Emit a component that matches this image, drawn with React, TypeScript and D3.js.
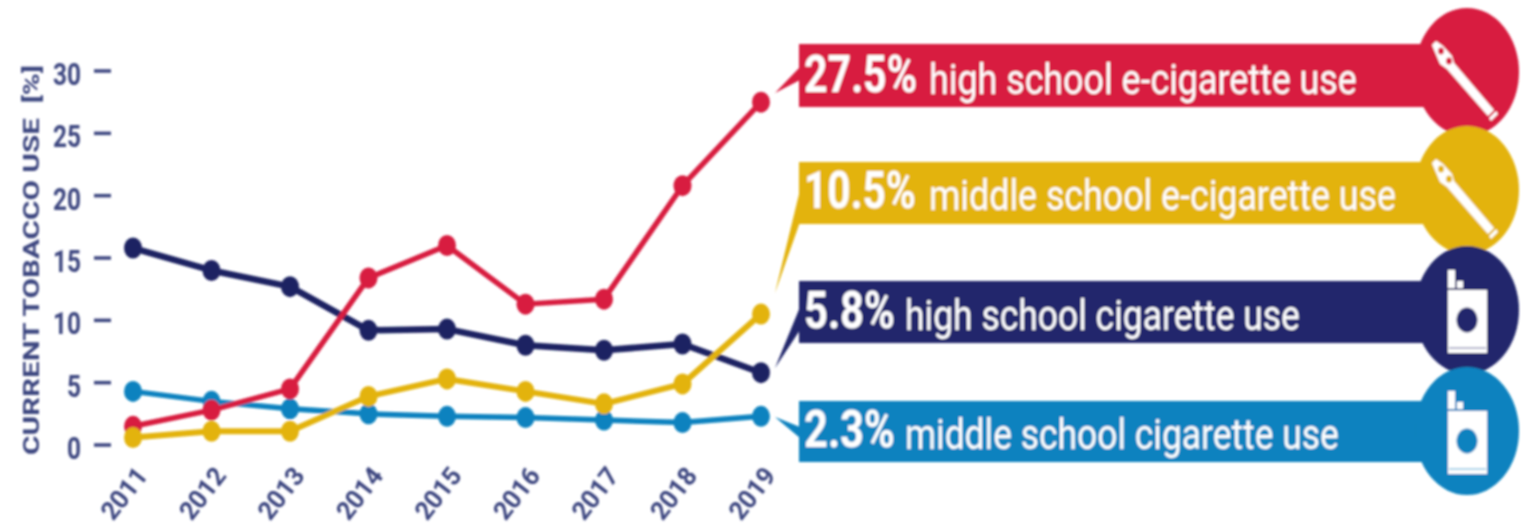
import React from "react";
import * as d3 from "d3";

const years = ["2011", "2012", "2013", "2014", "2015", "2016", "2017", "2018", "2019"];
const yTicks = [0, 5, 10, 15, 20, 25, 30];
const navyValues = [15.8, 14.0, 12.7, 9.2, 9.3, 8.0, 7.6, 8.1, 5.8];
const blueValues = [4.3, 3.5, 2.9, 2.5, 2.3, 2.2, 2.0, 1.8, 2.3];
const redValues = [1.5, 2.8, 4.5, 13.4, 16.0, 11.3, 11.7, 20.8, 27.5];
const yellowValues = [0.6, 1.1, 1.1, 3.9, 5.3, 4.3, 3.3, 4.9, 10.5];

const RED = "#d81f3f";
const YELLOW = "#e3b30f";
const NAVY = "#22286c";
const BLUE = "#0a82bf";
const AXIS = "#3d4680";
const FONT = "Roboto, 'Open Sans', sans-serif";

const x = d3.scalePoint<string>().domain(years).range([133, 761]);
const y = d3.scaleLinear().domain([0, 30]).range([445, 71]);
const line = d3
  .line<number>()
  .x((_, i) => x(years[i]) as number)
  .y((d) => y(d));

const lineSeries = [
  { values: navyValues, color: "#1e2362", width: 6.5 },
  { values: blueValues, color: BLUE, width: 5.5 },
  { values: redValues, color: RED, width: 5.5 },
  { values: yellowValues, color: YELLOW, width: 6 },
];

const banners = [
  { pct: "27.5%", pctW: 113, label: "high school e-cigarette use", lx: 929, lw: 428, top: 44, bottom: 107, base: 91, cy: 72, color: RED, icon: "ecig", tip: [775, 93], b1: 67, b2: 80 },
  { pct: "10.5%", pctW: 112, label: "middle school e-cigarette use", lx: 929, lw: 467, top: 162, bottom: 224, base: 207, cy: 190, color: YELLOW, icon: "ecig", tip: [775, 293], b1: 190, b2: 222 },
  { pct: "5.8%", pctW: 91, label: "high school cigarette use", lx: 905, lw: 395, top: 281, bottom: 343, base: 327, cy: 310, color: NAVY, icon: "pack", tip: [775, 368], b1: 307, b2: 330 },
  { pct: "2.3%", pctW: 91, label: "middle school cigarette use", lx: 905, lw: 434, top: 401, bottom: 462, base: 446, cy: 431, color: BLUE, icon: "pack", tip: [775, 417], b1: 427, b2: 438 },
];

const measureCtx = document.createElement("canvas").getContext("2d") as CanvasRenderingContext2D;
function natural(text: string, size: number, weight: number) {
  measureCtx.font = `${weight} ${size}px Roboto`;
  return measureCtx.measureText(text).width;
}

// Text squeezed horizontally to a target width, so its box matches what is drawn.
function Fit({ text, px, py, w, size, weight, fill, rotate = 0, anchor = "start" }: any) {
  const sx = w / natural(text, size, weight);
  return (
    <text
      transform={`translate(${px},${py}) rotate(${rotate}) scale(${sx},1)`}
      textAnchor={anchor}
      fontSize={size}
      fontWeight={weight}
      fill={fill}
      xmlSpace="preserve"
    >
      {text}
    </text>
  );
}

function ECig({ cy, color }: { cy: number; color: string }) {
  const o = (a: number, b: number) => `${1467 + a},${cy + b}`;
  return (
    <g>
      <polygon
        points={[o(-35, -27), o(-31, -31), o(-24, -26), o(-15, -16), o(-13, -9), o(27, 38), o(21, 44), o(-20, -3), o(-27, -8)].join(" ")}
        fill="#fff"
      />
      <polygon points={[o(24, 49), o(31, 42), o(29, 39), o(22, 46)].join(" ")} fill="#fff" />
      <ellipse cx={1467 - 26} cy={cy - 21} rx={3} ry={3.5} fill={color} />
      <ellipse cx={1467 - 18} cy={cy - 11} rx={3} ry={3.5} fill={color} />
    </g>
  );
}

function Pack({ cy, color }: { cy: number; color: string }) {
  const t = cy - 20;
  return (
    <g>
      <rect x={1448} y={t} width={39} height={63} fill="#fff" />
      <rect x={1448} y={t - 20} width={7} height={18} fill="#fff" />
      <rect x={1457} y={t - 9} width={6} height={7} fill="#fff" />
      <rect x={1449} y={t + 57} width={37} height={2} fill={color} opacity={0.35} />
      <ellipse cx={1467} cy={cy + 10} rx={10.5} ry={12.5} fill={color} />
    </g>
  );
}

export default function App() {
  return (
    <svg
      width={1532}
      height={528}
      viewBox="0 0 1532 528"
      style={{ position: "absolute", left: 0, top: 0, background: "#fff" }}
      fontFamily={FONT}
    >
      <defs>
        <filter id="soft" x="-2%" y="-2%" width="104%" height="104%">
          <feGaussianBlur stdDeviation="0.8" />
        </filter>
      </defs>
      <g filter="url(#soft)">
        <Fit text="CURRENT TOBACCO USE  [%]" px={39} py={260} w={392} size={22} weight={700} fill={AXIS} rotate={-90} anchor="middle" />
        {yTicks.map((t) => (
          <g key={t}>
            <line x1={94} x2={111} y1={y(t)} y2={y(t)} stroke={AXIS} strokeWidth={3.5} />
            <Fit text={String(t)} px={81} py={y(t) + 14} w={t < 10 ? 14 : 28} size={32} weight={700} fill={AXIS} anchor="end" />
          </g>
        ))}
        {years.map((yr) => (
          <Fit key={yr} text={yr} px={(x(yr) as number) - 2} py={499} w={58} size={26} weight={700} fill={AXIS} rotate={-52} anchor="middle" />
        ))}
        {lineSeries.map((s, i) => (
          <g key={i}>
            <path d={line(s.values) as string} fill="none" stroke={s.color} strokeWidth={s.width} strokeLinejoin="round" />
            {s.values.map((v, j) => (
              <ellipse key={j} cx={x(years[j]) as number} cy={y(v)} rx={9} ry={10.5} fill={s.color} />
            ))}
          </g>
        ))}
        {banners.map((b) => (
          <g key={b.pct}>
            <polygon points={`${b.tip[0]},${b.tip[1]} 800,${b.b1} 800,${b.b2}`} fill={b.color} />
            <rect x={799} y={b.top} width={640} height={b.bottom - b.top} fill={b.color} />
            <ellipse cx={1467} cy={b.cy} rx={52} ry={64} fill={b.color} />
            {b.icon === "ecig" ? <ECig cy={b.cy} color={b.color} /> : <Pack cy={b.cy} color={b.color} />}
            <Fit text={b.pct} px={804} py={b.base + 1} w={b.pctW} size={52} weight={700} fill="#fff" />
            <Fit text={b.label} px={b.lx} py={b.base + 3} w={b.lw} size={42} weight={400} fill="#fff" />
          </g>
        ))}
      </g>
    </svg>
  );
}
